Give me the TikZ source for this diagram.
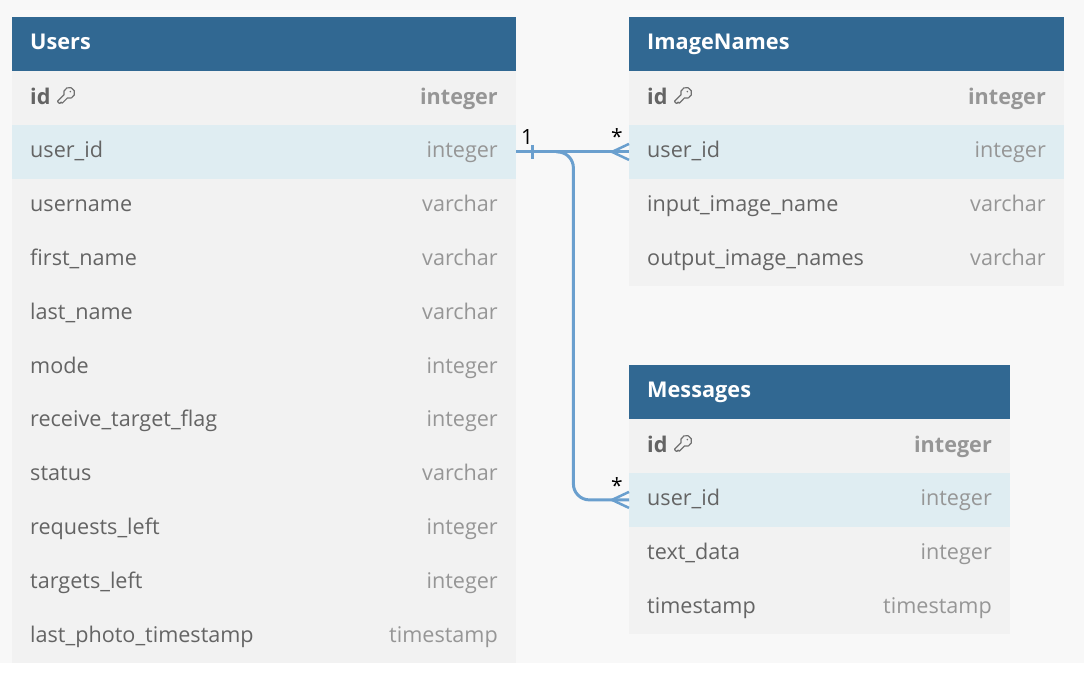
\documentclass[tikz,border=0pt]{standalone}
\usepackage{fontspec}
\setmainfont{Open Sans}
\usetikzlibrary{calc}
\definecolor{bgc}{RGB}{248,248,248}
\definecolor{hdrc}{RGB}{49,104,146}
\definecolor{rowc}{RGB}{242,242,242}
\definecolor{hlc}{RGB}{223,237,242}
\definecolor{namec}{RGB}{100,100,100}
\definecolor{typec}{RGB}{150,150,150}
\definecolor{connc}{RGB}{106,159,206}
\definecolor{keyc}{RGB}{112,112,112}
\tikzset{
  hdr/.style={fill=hdrc, draw=none, inner sep=0pt, minimum height=54pt},
  hdrtxt/.style={text=white, font=\fontsize{21.7}{24}\selectfont\bfseries, inner sep=0pt},
  rowbox/.style={draw=none, inner sep=0pt, minimum height=53.8pt},
  nametxt/.style={text=namec, font=\fontsize{21.6}{24}\selectfont, inner sep=0pt},
  typetxt/.style={text=typec, font=\fontsize{21.6}{24}\selectfont, inner sep=0pt},
  boldtxt/.style={font=\fontsize{21.6}{24}\selectfont\bfseries},
  conn/.style={draw=connc, line width=3pt},
  card/.style={text=black, font=\fontsize{21}{24}\selectfont, inner sep=0pt},
  keyline/.style={draw=keyc, line width=1.2pt, line cap=round, line join=round},
}
\newcommand\keyicon[2]{%
  \begin{scope}[shift={(#1,#2)}, yscale=-1.1, xscale=1.1]
    \draw[keyline] (10.29,6.3) arc[start angle=-110, end angle=200, radius=5]
      -- (1.3,3.3) -- (3.3,1.3) -- (4.6,2.6) -- (5.6,1.6) -- (6.6,2.6) -- cycle;
    \fill[keyc] (13,12.2) circle (0.8);
  \end{scope}}
\begin{document}
\begin{tikzpicture}[x=1pt,y=-1pt]
\fill[bgc] (0,0) rectangle (1084,663);
\fill[white] (0,663) rectangle (1084,685);
\useasboundingbox (0,0) rectangle (1084,685);

% ---------------- Users ----------------
\node[hdr, minimum width=504pt, anchor=north west] (users) at (12,17) {};
\node[hdrtxt, anchor=base west] (userst) at (30,49) {Users};
\node[rowbox, fill=rowc, minimum width=504pt, anchor=north west] (u1) at (12,71) {};
\node[nametxt, boldtxt, anchor=base west] (u1n) at (30,104) {id};
\keyicon{56}{105}
\node[typetxt, boldtxt, anchor=base east] (u1t) at (498,104) {integer};
\foreach \n/\t/\c [count=\i from 2] in {user\_id/integer/hlc, username/varchar/rowc, first\_name/varchar/rowc, last\_name/varchar/rowc, mode/integer/rowc, receive\_target\_flag/integer/rowc, status/varchar/rowc, requests\_left/integer/rowc, targets\_left/integer/rowc, last\_photo\_timestamp/timestamp/rowc}{
  \node[rowbox, fill=\c, minimum width=504pt, anchor=north west] (u\i) at (12,{71+(\i-1)*53.8}) {};
  \node[nametxt, anchor=base west] (u\i n) at (30,{71+(\i-1)*53.8+33}) {\n};
  \node[typetxt, anchor=base east] (u\i t) at (498,{71+(\i-1)*53.8+33}) {\t};
}

% ---------------- ImageNames ----------------
\node[hdr, minimum width=435pt, anchor=north west] (imgs) at (629,17) {};
\node[hdrtxt, anchor=base west] (imgst) at (647,49) {ImageNames};
\node[rowbox, fill=rowc, minimum width=435pt, anchor=north west] (i1) at (629,71) {};
\node[nametxt, boldtxt, anchor=base west] (i1n) at (647,104) {id};
\keyicon{673}{105}
\node[typetxt, boldtxt, anchor=base east] (i1t) at (1046,104) {integer};
\foreach \n/\t/\c [count=\i from 2] in {user\_id/integer/hlc, input\_image\_name/varchar/rowc, output\_image\_names/varchar/rowc}{
  \node[rowbox, fill=\c, minimum width=435pt, anchor=north west] (i\i) at (629,{71+(\i-1)*53.8}) {};
  \node[nametxt, anchor=base west] (i\i n) at (647,{71+(\i-1)*53.8+33}) {\n};
  \node[typetxt, anchor=base east] (i\i t) at (1046,{71+(\i-1)*53.8+33}) {\t};
}

% ---------------- Messages ----------------
\node[hdr, minimum width=381pt, anchor=north west] (msgs) at (629,365) {};
\node[hdrtxt, anchor=base west] (msgst) at (647,397) {Messages};
\node[rowbox, fill=rowc, minimum width=381pt, anchor=north west] (m1) at (629,419) {};
\node[nametxt, boldtxt, anchor=base west] (m1n) at (647,452) {id};
\keyicon{673}{453}
\node[typetxt, boldtxt, anchor=base east] (m1t) at (992,452) {integer};
\foreach \n/\t/\c [count=\i from 2] in {user\_id/integer/hlc, text\_data/integer/rowc, timestamp/timestamp/rowc}{
  \node[rowbox, fill=\c, minimum width=381pt, anchor=north west] (m\i) at (629,{419+(\i-1)*53.8}) {};
  \node[nametxt, anchor=base west] (m\i n) at (647,{419+(\i-1)*53.8+33}) {\n};
  \node[typetxt, anchor=base east] (m\i t) at (992,{419+(\i-1)*53.8+33}) {\t};
}

% ---------------- connectors ----------------
\draw[conn] (u2.east) -- (i2.west);
\draw[conn, rounded corners=16pt] ($(u2.east)+(40,0)$) -- ($(u2.east)+(57,0)$) |- (m2.west);
% one-side bar
\draw[conn, line width=2.5pt] ($(u2.east)+(16,-7)$) -- ($(u2.east)+(16,7)$);
% crow's feet
\draw[conn, line width=2.5pt] ($(i2.west)+(0,-8)$) -- ($(i2.west)+(-17,0)$) -- ($(i2.west)+(0,8)$);
\draw[conn, line width=2.5pt] ($(m2.west)+(0,-8)$) -- ($(m2.west)+(-17,0)$) -- ($(m2.west)+(0,8)$);
% cardinality labels
\node[card] (c1) at (527,137) {1};
\node[card] (c2) at (617,137) {*};
\node[card] (c3) at (617,486) {*};
\end{tikzpicture}
\end{document}
